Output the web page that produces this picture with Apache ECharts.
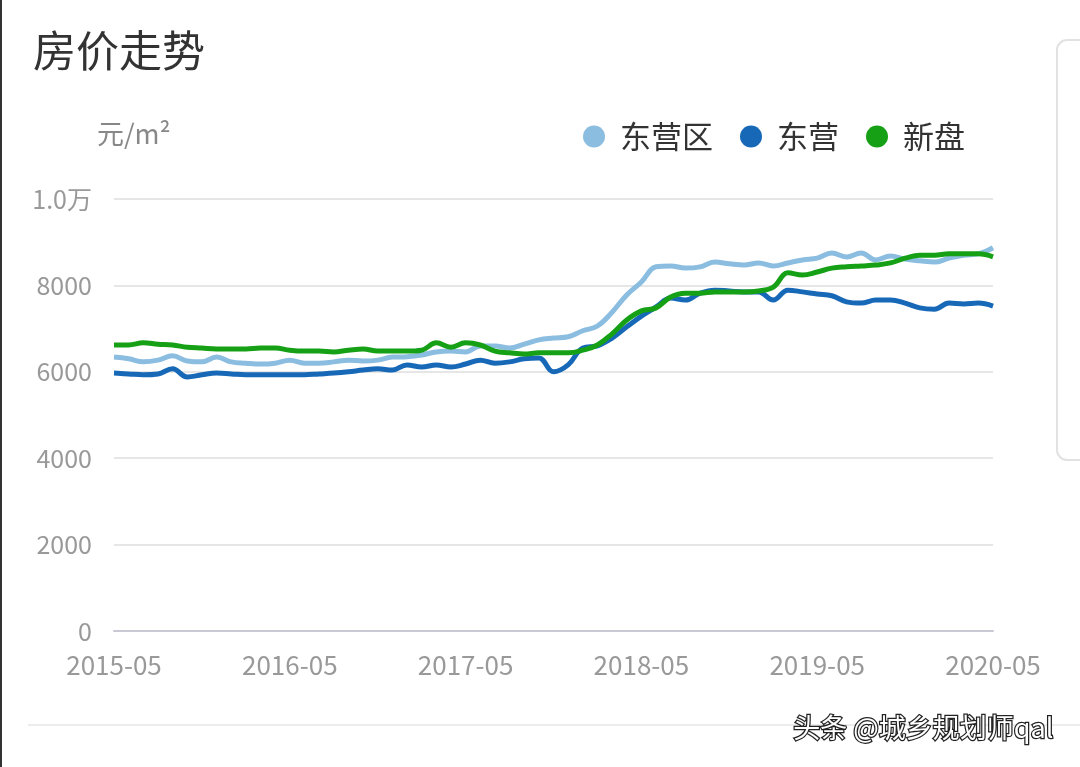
<!DOCTYPE html>
<html>
<head>
<meta charset="utf-8">
<script src="https://cdn.jsdelivr.net/npm/echarts@6/dist/echarts.min.js"></script>
<style>
html,body{margin:0;padding:0;background:#fff;}
#chart{width:1080px;height:767px;}
</style>
</head>
<body>
<div id="chart"></div>
<script>
// Monthly categories 2015-05 .. 2020-05
const categories = [];
for (let y = 2015, m = 5; y < 2020 || (y === 2020 && m <= 5); ) {
  categories.push(y + '-' + (m < 10 ? '0' + m : m));
  m++; if (m > 12) { m = 1; y++; }
}
const seriesNames = ['东营区', '东营', '新盘'];
const dongyingqu = [6340,6300,6230,6270,6370,6250,6230,6340,6230,6200,6180,6200,6270,6200,6200,6230,6270,6250,6270,6340,6350,6390,6460,6480,6460,6600,6600,6550,6640,6740,6780,6810,6950,7060,7380,7780,8080,8430,8450,8400,8430,8540,8500,8470,8520,8450,8520,8590,8630,8750,8660,8750,8590,8680,8610,8570,8540,8630,8700,8730,8870];
const dongying = [5970,5950,5930,5950,6070,5880,5930,5970,5950,5930,5930,5930,5930,5930,5950,5970,6000,6040,6070,6040,6160,6110,6160,6110,6180,6270,6200,6230,6300,6320,6000,6160,6550,6600,6780,7040,7290,7500,7710,7660,7820,7890,7870,7850,7850,7660,7890,7850,7800,7760,7620,7590,7660,7660,7590,7480,7450,7590,7570,7590,7520];
const xinpan = [6620,6620,6670,6640,6620,6570,6550,6530,6530,6530,6550,6550,6500,6480,6480,6460,6500,6530,6480,6480,6480,6500,6670,6570,6670,6620,6480,6440,6410,6440,6440,6440,6500,6620,6880,7200,7410,7480,7730,7820,7820,7850,7850,7850,7870,7960,8290,8240,8310,8400,8430,8450,8470,8520,8630,8700,8700,8730,8730,8730,8660];
const yTicks = [0, 2000, 4000, 6000, 8000, 10000];

const colors = ['#8bbde0', '#1769b8', '#16a016'];
const font = '"Noto Sans CJK SC", "Noto Sans", sans-serif';

const chart = echarts.init(document.getElementById('chart'));
chart.setOption({
  animation: false,
  backgroundColor: '#fff',
  color: colors,
  textStyle: { fontFamily: font },
  title: {
    text: '房价走势',
    left: 28, top: 24,
    textStyle: { fontSize: 43, fontWeight: 'normal', color: '#333', fontFamily: font }
  },
  legend: {
    data: seriesNames,
    right: 110, top: 116,
    icon: 'circle',
    itemWidth: 22, itemHeight: 22,
    itemGap: 27,
    textStyle: { fontSize: 31, color: '#333', fontFamily: font, padding: [0, 0, 0, 10] }
  },
  grid: { left: 114, right: 87, top: 199, bottom: 136 },
  xAxis: {
    type: 'category',
    data: categories,
    boundaryGap: false,
    axisLine: { lineStyle: { color: '#c9c9d6', width: 2 } },
    axisTick: { show: false },
    axisLabel: { interval: 11, color: '#999', fontSize: 26, margin: 21, fontFamily: font }
  },
  yAxis: {
    type: 'value',
    min: yTicks[0], max: yTicks[yTicks.length - 1], interval: 2000,
    axisLine: { show: false },
    axisTick: { show: false },
    splitLine: { lineStyle: { color: '#e6e6e6', width: 2 } },
    axisLabel: {
      color: '#999', fontSize: 25, margin: 22, fontFamily: font,
      formatter: v => v === 10000 ? '1.0万' : String(v)
    }
  },
  series: [
    { name: seriesNames[0], type: 'line', data: dongyingqu, smooth: 0.4, showSymbol: false, lineStyle: { width: 5 } },
    { name: seriesNames[1], type: 'line', data: dongying, smooth: 0.4, showSymbol: false, lineStyle: { width: 5 } },
    { name: seriesNames[2], type: 'line', data: xinpan, smooth: 0.4, showSymbol: false, lineStyle: { width: 5 } }
  ],
  graphic: [
    { type: 'text', left: 97, top: 120, style: { text: '元/m²', fontSize: 27, fill: '#888', fontFamily: font } },
    { type: 'rect', shape: { x: 0, y: 0, width: 2, height: 767 }, style: { fill: '#333' } },
    { type: 'rect', shape: { x: 1057, y: 40, width: 40, height: 420, r: 10 }, style: { fill: 'none', stroke: '#e2e2e2', lineWidth: 2 } },
    { type: 'rect', shape: { x: 28, y: 724, width: 1052, height: 2 }, style: { fill: '#ececec' } },
    { type: 'text', left: 792, top: 713, style: { text: '头条 @城乡规划师qal', fontSize: 27, fill: '#fff', stroke: '#222', lineWidth: 2.5, fontFamily: font } }
  ]
});
</script>
</body>
</html>
